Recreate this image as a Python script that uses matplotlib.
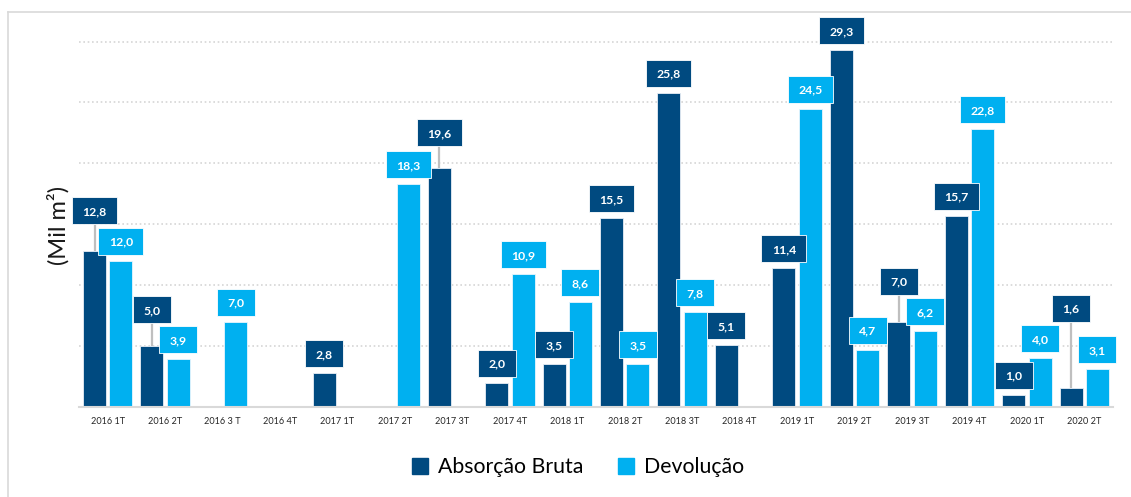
import numpy as np
import matplotlib
matplotlib.use('Agg')
import matplotlib.pyplot as plt
from matplotlib.patches import Rectangle
from matplotlib.lines import Line2D

plt.rcParams['font.family'] = ['Lato', 'DejaVu Sans']

# trimestres
categorias = ['2016 1T', '2016 2T', '2016 3 T', '2016 4T', '2017 1T', '2017 2T',
              '2017 3T', '2017 4T', '2018 1T', '2018 2T', '2018 3T', '2018 4T',
              '2019 1T', '2019 2T', '2019 3T', '2019 4T', '2020 1T', '2020 2T']
# mil m2 (nan = sem valor)
absorcao = [12.8, 5.0, np.nan, np.nan, 2.8, np.nan, 19.6, 2.0, 3.5, 15.5,
            25.8, 5.1, 11.4, 29.3, 7.0, 15.7, 1.0, 1.6]
devolucao = [12.0, 3.9, 7.0, np.nan, np.nan, 18.3, np.nan, 10.9, 8.6, 3.5,
             7.8, np.nan, 24.5, 4.7, 6.2, 22.8, 4.0, 3.1]

COR_ESCURA = '#004a80'
COR_CLARA = '#00b0f0'

# rotulos afastados da barra (em px) -> ligados por linha guia
afastamento_abs = {0: 27, 1: 23, 6: 22, 14: 27, 17: 66}
afastamento_dev = {}

W, H = 1131, 497
fig = plt.figure(figsize=(W / 100, H / 100), dpi=100)
ax_left, ax_right, ax_bottom, ax_top = 79, 1113, 407, 17.2
ax = fig.add_axes([ax_left / W, (H - ax_bottom) / H,
                   (ax_right - ax_left) / W, (ax_bottom - ax_top) / H])

n = len(categorias)
x = np.arange(n)
ax.set_xlim(-0.5, n - 0.5)
ax.set_ylim(0, 32)

# px por unidade de dado
PX_X = (ax_right - ax_left) / n
PX_Y = (ax_bottom - ax_top) / 32

larg = 0.40
desl = 0.23
ax.bar(x - desl, absorcao, larg, color=COR_ESCURA, edgecolor='#e8eef5', linewidth=0.6, zorder=2)
ax.bar(x + desl, devolucao, larg, color=COR_CLARA, edgecolor='#e8f6fd', linewidth=0.6, zorder=2)


def rotulo(xc, val, cor, lift_px):
    txt = f'{val:.1f}'.replace('.', ',')
    w = (45 if len(txt) > 3 else 38) / PX_X
    h = 27 / PX_Y
    y0 = val + lift_px / PX_Y
    if lift_px > 10:
        ax.plot([xc, xc], [val, y0], color='#bfbfbf', lw=1.6, zorder=3,
                solid_capstyle='butt', clip_on=False)
    ax.add_patch(Rectangle((xc - w / 2, y0), w, h, facecolor=cor, edgecolor='white',
                           linewidth=0.6, clip_on=False, zorder=4))
    ax.text(xc, y0 + h / 2, txt, ha='center', va='center_baseline', color='white',
            fontsize=8.8, fontweight='bold', zorder=5, clip_on=False)


for i in range(n):
    if not np.isnan(absorcao[i]):
        rotulo(x[i] - desl, absorcao[i], COR_ESCURA, afastamento_abs.get(i, 6))
    if not np.isnan(devolucao[i]):
        rotulo(x[i] + desl, devolucao[i], COR_CLARA, afastamento_dev.get(i, 6))

# grade pontilhada
ax.set_yticks(np.arange(0, 31, 5))
ax.yaxis.grid(True, linestyle=(0, (1, 1.6)), color='#d6d6d6', linewidth=1.2, zorder=0)
ax.set_axisbelow(True)
ax.tick_params(axis='y', length=0, labelleft=False)

ax.set_xticks(x)
ax.set_xticklabels(categorias, fontsize=6.6, color='#262626')
ax.tick_params(axis='x', length=0, pad=7)

for s in ['top', 'right', 'left']:
    ax.spines[s].set_visible(False)
ax.spines['bottom'].set_color('#d9d9d9')
ax.spines['bottom'].set_linewidth(1.5)

fig.text(58 / W, 1 - 225 / H, '(Mil m²)', rotation=90, ha='center', va='center',
         fontsize=17, color='#1a1a1a')

handles = [Line2D([], [], marker='s', linestyle='none', markersize=11, color=COR_ESCURA),
           Line2D([], [], marker='s', linestyle='none', markersize=11, color=COR_CLARA)]
fig.legend(handles, ['Absorção Bruta', 'Devolução'], loc='center',
           bbox_to_anchor=(578 / W, 1 - 467 / H), ncol=2, frameon=False,
           fontsize=15.3, handlelength=0.8, handletextpad=0.45, columnspacing=1.6)

# moldura
fig.add_artist(Line2D([8 / W, 1], [1 - 12 / H, 1 - 12 / H], color='#d9d9d9', lw=1.2))
fig.add_artist(Line2D([8 / W, 8 / W], [0, 1 - 12 / H], color='#d9d9d9', lw=1.2))

fig.savefig('out.png', dpi=100)
